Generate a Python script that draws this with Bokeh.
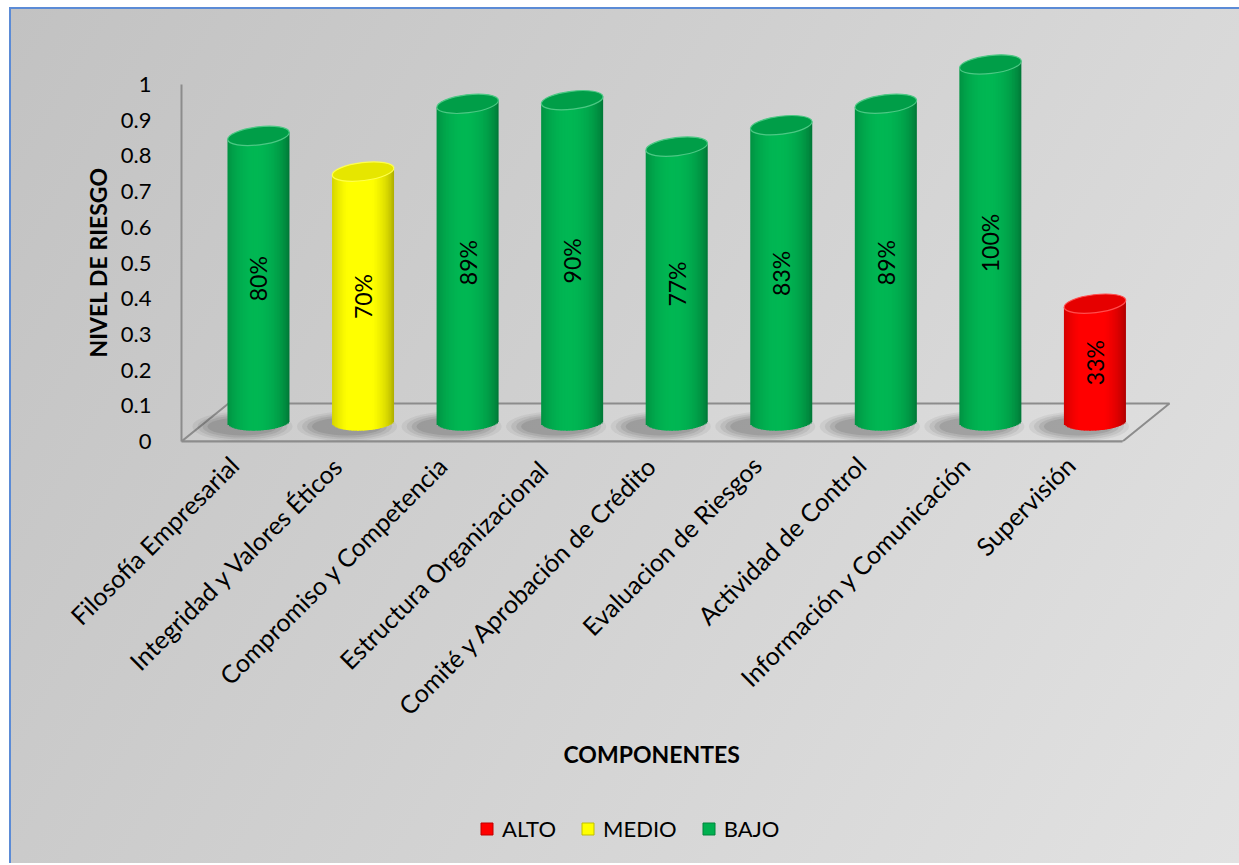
import math
from bokeh.plotting import figure
from bokeh.layouts import column
from bokeh.models import (Range1d, FixedTicker, Legend, LegendItem, Title,
                          ColumnDataSource)
from bokeh.core.properties import value
from bokeh.embed import file_html
from bokeh.resources import INLINE

# ---------------- data ----------------
CATEGORIES = ["Filosofía Empresarial", "Integridad y Valores Éticos",
              "Compromiso y Competencia", "Estructura  Organizacional",
              "Comité y Aprobación de Crédito", "Evaluacion de Riesgos",
              "Actividad de Control", "Información y Comunicación",
              "Supervisión"]
VALUES = [0.80, 0.70, 0.89, 0.90, 0.77, 0.83, 0.89, 1.00, 0.33]
LEVELS = ["BAJO", "MEDIO", "BAJO", "BAJO", "BAJO", "BAJO", "BAJO", "BAJO", "ALTO"]
LEVEL_ORDER = ["ALTO", "MEDIO", "BAJO"]
LEVEL_COLORS = {"ALTO": "#FF0000", "MEDIO": "#FFFF00", "BAJO": "#00B050"}
Y_TICKS = [0, 0.1, 0.2, 0.3, 0.4, 0.5, 0.6, 0.7, 0.8, 0.9, 1]
Y_TICK_LABELS = ["0", "0.1", "0.2", "0.3", "0.4", "0.5", "0.6", "0.7", "0.8", "0.9", "1"]
X_TITLE = "COMPONENTES"
Y_TITLE = "NIVEL DE RIESGO"

# ---------------- layout (page pixels) ----------------
OX, OY = 11, 9            # canvas origin on the page
W, H1, H2 = 1228, 791, 63
FRAME_L, FRAME_R = 181, 1190
FRAME_T, FRAME_B = 30, 441
Y0_PX, Y1_PX = 441, 84    # value 0 and 1 on the axis
X_FIRST_EDGE, X_LAST_EDGE = 181, 1122   # front edge of floor
PXY = (Y0_PX - Y1_PX) / 1.0
PXX = (X_LAST_EDGE - X_FIRST_EDGE) / len(CATEGORIES)
DEPTH_DX_PX, DEPTH_DY_PX = 47, 38        # floor depth vector
BAR_DX_PX, BAR_DY_PX = 24.7, 20          # bars sit mid-depth
BAR_W_PX, CAP_H_PX = 62, 18
TOP_TILT, BOT_TILT = 0.12, 0.05
FONT = "Lato"
XTITLE_LEFT, YTITLE_BOTTOM = 563, 357
LEGEND_X, LEGEND_TOP, LEGEND_H = 479, 817, 25

x_start = -0.5 - (X_FIRST_EDGE - FRAME_L) / PXX
x_end = -0.5 + (FRAME_R - X_FIRST_EDGE) / PXX
y_start = -(FRAME_B - Y0_PX) / PXY
y_end = (Y0_PX - FRAME_T) / PXY
BDX, BDY = BAR_DX_PX / PXX, BAR_DY_PX / PXY

p = figure(width=W, height=H1,
           x_range=Range1d(x_start, x_end), y_range=Range1d(y_start, y_end),
           output_backend="svg", toolbar_location=None,
           min_border_left=FRAME_L - OX, min_border_right=W - (FRAME_R - OX),
           min_border_top=FRAME_T - OY, min_border_bottom=H1 - (FRAME_B - OY))
p.frame_height = FRAME_B - FRAME_T
p.frame_width = FRAME_R - FRAME_L
p.extra_x_ranges = {"bars": Range1d(x_start - BDX, x_end - BDX)}
p.extra_y_ranges = {"bars": Range1d(y_start - BDY, y_end - BDY)}
p.background_fill_color = None
p.border_fill_color = None
p.outline_line_color = None
p.grid.visible = False

# ---------------- floor ----------------
n = len(CATEGORIES)
ddx, ddy = DEPTH_DX_PX / PXX, DEPTH_DY_PX / PXY
p.patch([-0.5, n - 0.5, n - 0.5 + ddx, -0.5 + ddx], [0, 0, ddy, ddy],
        fill_color="white", fill_alpha=0.07, line_color="#8c8c8c", line_width=2)

# ---------------- helpers ----------------
def rgb(hexc):
    hexc = hexc.lstrip("#")
    return [int(hexc[i:i + 2], 16) for i in (0, 2, 4)]

def to_hex(c):
    return "#%02x%02x%02x" % tuple(max(0, min(255, int(round(v)))) for v in c)

def scale(hexc, k):
    return to_hex([v * k for v in rgb(hexc)])

def lighten(hexc, f):
    return to_hex([v + (255 - v) * f for v in rgb(hexc)])

def brightness(t):
    u = min(1.0, abs(t + 0.1) / 1.1)
    return 0.64 + 0.40 * (math.cos(math.pi / 2 * u) ** 0.6)

a_px, b_px = BAR_W_PX / 2, CAP_H_PX / 2
colors = [LEVEL_COLORS[l] for l in LEVELS]

# ---------------- shadows ----------------
for (sw, sh, al) in [(100, 30, 0.07), (90, 26, 0.09), (80, 22, 0.11), (70, 18, 0.13)]:
    p.ellipse(x=[i - 16 / PXX for i in range(n)], y=[-5 / PXY] * n,
              width=sw, height=sh, width_units="screen", height_units="screen",
              fill_color="#333333", fill_alpha=al, line_color=None,
              x_range_name="bars", y_range_name="bars")

# ---------------- cylinder bodies (shaded strips) ----------------
NS = 40
L, R, T, B, C = [], [], [], [], []
for i, v in enumerate(VALUES):
    for k in range(NS):
        t0 = -1 + 2 * k / NS
        t1 = t0 + 2 / NS
        tc = (t0 + t1) / 2
        L.append(i + t0 * a_px / PXX)
        R.append(i + t1 * a_px / PXX + (1.0 / PXX if k < NS - 1 else 0))
        T.append(v + tc * a_px * math.tan(TOP_TILT) / PXY)
        B.append((tc * a_px * math.tan(BOT_TILT) - b_px * math.sqrt(max(0.0, 1 - tc * tc))) / PXY)
        C.append(scale(colors[i], brightness(tc)))
p.quad(left="l", right="r", top="t", bottom="b", fill_color="c", line_color=None,
       source=ColumnDataSource(dict(l=L, r=R, t=T, b=B, c=C)),
       x_range_name="bars", y_range_name="bars")

# ---------------- top caps ----------------
cap_src = ColumnDataSource(dict(x=list(range(n)), y=VALUES,
                                fc=[scale(c, 0.9) for c in colors],
                                lc=[lighten(c, 0.3) for c in colors]))
p.ellipse(x="x", y="y", width=BAR_W_PX, height=CAP_H_PX, width_units="screen",
          height_units="screen", angle=TOP_TILT, fill_color="fc", line_color="lc",
          line_width=1.2, source=cap_src, x_range_name="bars", y_range_name="bars")

# ---------------- value labels ----------------
lab_src = ColumnDataSource(dict(x=list(range(n)), y=[v / 2 for v in VALUES],
                                t=["%d%%" % round(v * 100) for v in VALUES]))
p.text(x="x", y="y", text="t", source=lab_src, angle=math.pi / 2,
       text_align="center", text_baseline="middle", text_font=value(FONT),
       text_font_size=value("23px"), text_color="black",
       x_range_name="bars", y_range_name="bars")

# ---------------- axes ----------------
ya = p.yaxis[0]
ya.ticker = FixedTicker(ticks=Y_TICKS)
ya.major_label_overrides = {t: s for t, s in zip(Y_TICKS, Y_TICK_LABELS)}
ya.bounds = (0, 1)
ya.axis_line_color = "#8c8c8c"
ya.axis_line_width = 2
ya.major_tick_line_color = None
ya.minor_tick_line_color = None
ya.major_label_standoff = 24
ya.major_label_text_font = FONT
ya.major_label_text_font_size = "22px"
ya.major_label_text_color = "black"

xa = p.xaxis[0]
xa.ticker = FixedTicker(ticks=list(range(n)))
xa.major_label_overrides = {i: c for i, c in enumerate(CATEGORIES)}
xa.major_label_orientation = math.pi / 4
xa.bounds = (-0.5, n - 0.5)
xa.axis_line_color = "#8c8c8c"
xa.axis_line_width = 2
xa.major_tick_line_color = None
xa.minor_tick_line_color = None
xa.major_label_standoff = 13
xa.major_label_text_font = FONT
xa.major_label_text_font_size = "25px"
xa.major_label_text_color = "black"

p.add_layout(Title(text=X_TITLE, align="left", offset=XTITLE_LEFT - FRAME_L, text_font=FONT,
                   text_font_size="23px", text_font_style="bold", text_color="black",
                   standoff=7), "below")
p.add_layout(Title(text=Y_TITLE, align="left", offset=FRAME_B - YTITLE_BOTTOM, text_font=FONT,
                   text_font_size="23px", text_font_style="bold", text_color="black",
                   standoff=12), "left")

# ---------------- legend strip (second figure under the chart) ----------------
# its frame is aligned with the main frame by the column layout
p2 = figure(width=W, height=H2, x_range=Range1d(0, 1), y_range=Range1d(2, 3),
            output_backend="svg", toolbar_location=None, min_border=0,
            x_axis_location=None, y_axis_location=None)
p2.background_fill_color = None
p2.border_fill_color = None
p2.outline_line_color = None
p2.grid.visible = False

legend_renderers = {}
for lvl in LEVEL_ORDER:
    idx = [i for i, l in enumerate(LEVELS) if l == lvl]
    src = ColumnDataSource(dict(x=idx, top=[VALUES[i] for i in idx]))
    # bars lie below the strip's visible y range; only their legend swatches show
    legend_renderers[lvl] = p2.vbar(x="x", top="top", bottom=0, width=0.5, source=src,
                                    fill_color=LEVEL_COLORS[lvl],
                                    line_color=scale(LEVEL_COLORS[lvl], 0.75), line_width=1)

p2_top_page = OY + H1
legend = Legend(items=[LegendItem(label=l, renderers=[legend_renderers[l]]) for l in LEVEL_ORDER],
                orientation="horizontal",
                location=(LEGEND_X - FRAME_L, H2 - (LEGEND_TOP - p2_top_page) - LEGEND_H),
                glyph_width=15, glyph_height=15, label_standoff=8, spacing=24,
                padding=0, margin=0, border_line_color=None, background_fill_alpha=0,
                label_text_font=FONT, label_text_font_size="22px", label_text_color="black")
p2.add_layout(legend, "center")

layout = column(p, p2, spacing=0, margin=(7, 0, 0, 9),
                styles={"background": "linear-gradient(120deg, #c2c2c2 0%, #d0d0d0 45%, #e2e2e2 100%)",
                        "border-left": "2px solid #5b8bd6", "border-top": "2px solid #5b8bd6"})

open("out.html", "w").write(file_html(layout, INLINE))
